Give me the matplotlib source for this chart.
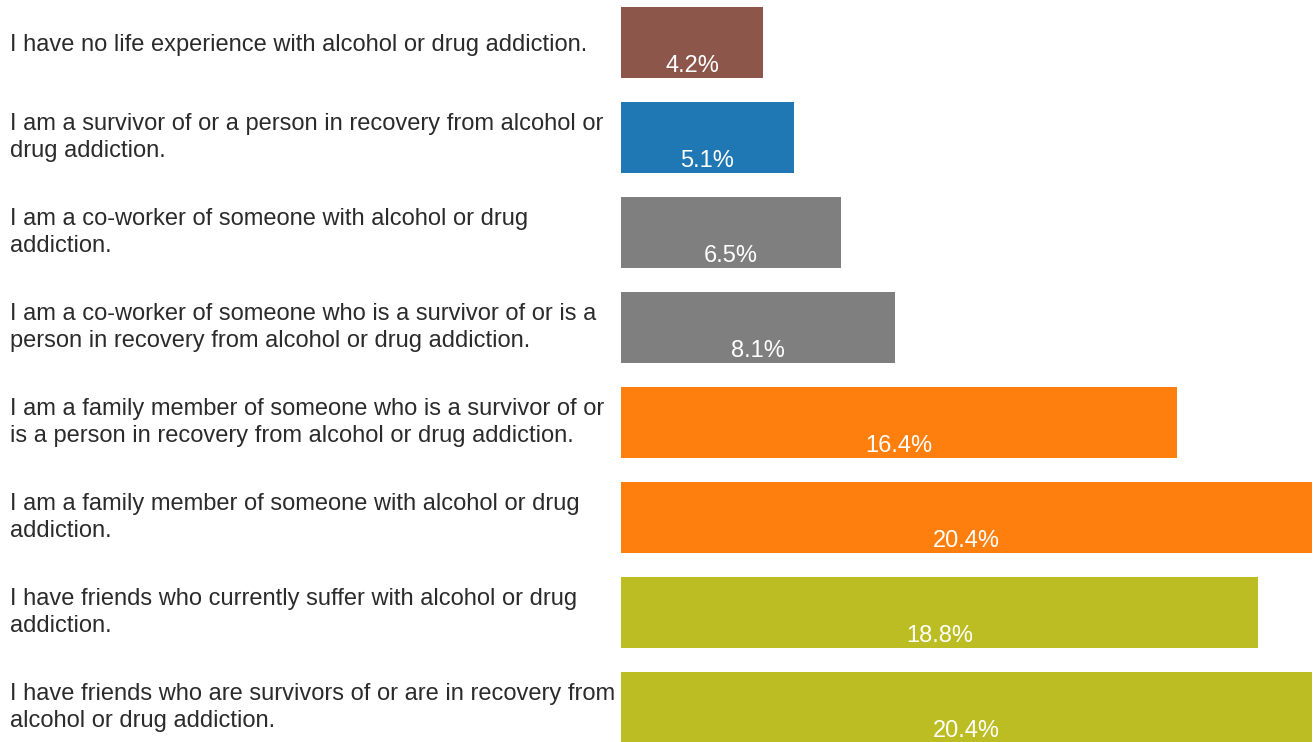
import matplotlib.pyplot as plt
import numpy as np

plt.rcParams['font.family'] = ['Liberation Sans', 'DejaVu Sans']

# data
labels = [
    "I have no life experience with alcohol or drug addiction.",
    "I am a survivor of or a person in recovery from alcohol or\ndrug addiction.",
    "I am a co-worker of someone with alcohol or drug\naddiction.",
    "I am a co-worker of someone who is a survivor of or is a\nperson in recovery from alcohol or drug addiction.",
    "I am a family member of someone who is a survivor of or\nis a person in recovery from alcohol or drug addiction.",
    "I am a family member of someone with alcohol or drug\naddiction.",
    "I have friends who currently suffer with alcohol or drug\naddiction.",
    "I have friends who are survivors of or are in recovery from\nalcohol or drug addiction.",
]
values = [4.2, 5.1, 6.5, 8.1, 16.4, 20.4, 18.8, 20.4]
colors = ["#8c564b", "#1f77b4", "#7f7f7f", "#7f7f7f",
          "#ff7f0e", "#ff7f0e", "#bcbd22", "#bcbd22"]

W, H = 1314, 742
fig = plt.figure(figsize=(W / 100, H / 100), dpi=100)
ax = fig.add_axes([621 / W, 0, 1 - 621 / W, 1])

y = np.arange(len(values))
ax.barh(y, values, height=0.75, color=colors)
ax.set_xlim(0, 20.4 * (W - 621) / (1312 - 621))
ax.set_ylim((H - 42.5) / 95, -42.5 / 95)
ax.axis('off')

for i, (lab, v) in enumerate(zip(labels, values)):
    ax.text(v / 2, i + 0.375 - 0.065, f"{v}%", ha='center', va='baseline',
            color='white', fontsize=17)
    off = 44.5 if '\n' not in lab else 42.5
    fig.text(10 / W, 1 - (off + 95 * i) / H, lab, ha='left', va='center',
             color='#2b2b2b', fontsize=17, linespacing=1.25)

fig.savefig("out.png", dpi=100)
